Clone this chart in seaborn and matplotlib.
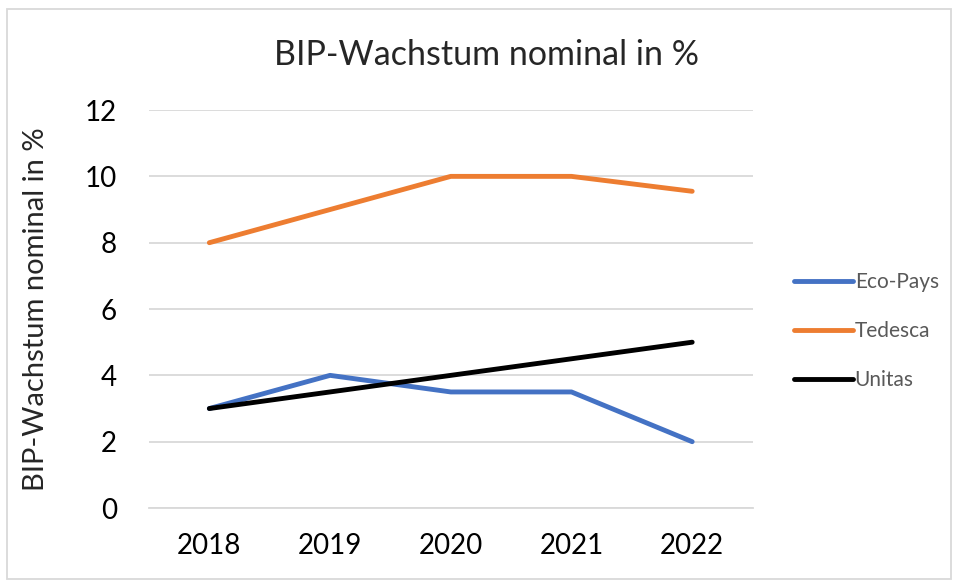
import pandas as pd
import seaborn as sns
import matplotlib.pyplot as plt
from matplotlib.patches import Rectangle

years = ['2018', '2019', '2020', '2021', '2022']
eco_pays = [3.0, 4.0, 3.5, 3.5, 2.0]
tedesca = [8.0, 9.0, 10.0, 10.0, 9.55]
unitas = [3.0, 3.5, 4.0, 4.5, 5.0]
series_names = ['Eco-Pays', 'Tedesca', 'Unitas']
colors = ['#4472C4', '#ED7D31', '#000000']

df = pd.DataFrame({'Jahr': years * 3,
                   'Wert': eco_pays + tedesca + unitas,
                   'Land': [n for n in series_names for _ in years]})

sns.set_style('white')
plt.rcParams['font.family'] = ['Lato', 'DejaVu Sans']

fig = plt.figure(figsize=(9.55, 5.81), dpi=100)
ax = fig.add_axes([0.156, 0.1256, 0.632, 0.685])

sns.lineplot(data=df, x='Jahr', y='Wert', hue='Land', palette=colors,
             linewidth=3.5, ax=ax, legend=False, sort=False)

ax.set_xlim(-0.5, 4.5)
ax.set_ylim(0, 12)
ax.set_yticks(range(0, 13, 2))
ax.yaxis.grid(True, color='#d9d9d9', linewidth=1.3)
ax.set_axisbelow(True)
for s in ['top', 'right', 'left']:
    ax.spines[s].set_visible(False)
ax.spines['bottom'].set_color('#d9d9d9')
ax.spines['bottom'].set_linewidth(1.3)
ax.tick_params(axis='both', length=0, labelsize=20, colors='black')
ax.tick_params(axis='y', pad=23)
ax.tick_params(axis='x', pad=18)
ax.set_xlabel('')
ax.set_ylabel('BIP-Wachstum nominal in %', fontsize=21)
ax.yaxis.set_label_coords(-0.166, 0.5)

fig.text(0.509, 0.905, 'BIP-Wachstum nominal in %', fontsize=24.5,
         ha='center', va='center')

handles = [plt.Line2D([], [], color=c, linewidth=3.5) for c in colors]
leg = fig.legend(handles, series_names, loc='center left',
                 bbox_to_anchor=(0.812, 0.43), frameon=False,
                 fontsize=15, handlelength=2.8, handletextpad=0.1,
                 labelspacing=1.4)
for t in leg.get_texts():
    t.set_color('#595959')

fig.patches.append(Rectangle((0.007, 0.004), 0.989, 0.98, transform=fig.transFigure,
                             fill=False, edgecolor='#d9d9d9', linewidth=1.3))

fig.savefig('out.png', dpi=100)
